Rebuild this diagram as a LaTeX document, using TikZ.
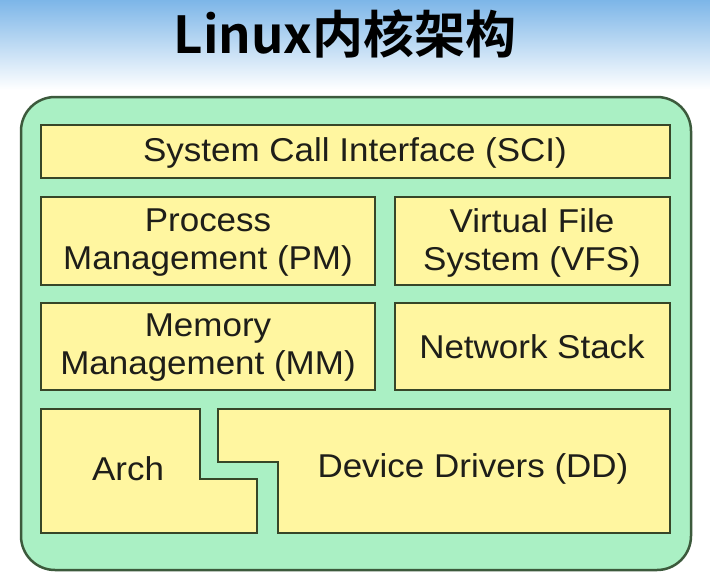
\documentclass[tikz,border=0pt]{standalone}
\usepackage{fontspec}
\setmainfont{Liberation Sans}
\newfontfamily\cjk{Noto Sans CJK SC}[BoldFont={* Bold}]
\definecolor{outerfill}{RGB}{170,240,196}
\definecolor{outerline}{RGB}{60,90,60}
\definecolor{boxfill}{RGB}{255,246,160}
\definecolor{boxline}{RGB}{55,70,40}
\definecolor{skyblue}{RGB}{125,182,232}
\definecolor{txt}{RGB}{30,30,25}
\tikzset{
  kbox/.style={draw=boxline, fill=boxfill, line width=2pt},
  klabel/.style={text=txt, font=\fontsize{33}{38}\selectfont, align=center, inner sep=0pt, xscale=1.06},
}
\begin{document}
\begin{tikzpicture}[x=1pt,y=-1pt]
\useasboundingbox (0,0) rectangle (710,582);
\shade[top color=skyblue, bottom color=white] (0,0) rectangle (710,90);
\fill[white] (0,90) rectangle (710,582);
\node[font=\cjk\bfseries\fontsize{51}{55}\selectfont, text=black, inner sep=0pt] (title) at (345,34) {Linux内核架构};
% outer container
\draw[draw=outerline, fill=outerfill, line width=2.5pt, rounded corners=34pt] (21,97) rectangle (691,570);
% boxes
\draw[kbox] (41,125) rectangle (670,178);
\node[klabel] (sci) at (355,153) {System Call Interface (SCI)};
\draw[kbox] (41,197) rectangle (375,285);
\node[klabel] (pm) at (208,243) {Process\\Management (PM)};
\draw[kbox] (395,197) rectangle (670,285);
\node[klabel] (vfs) at (532,243) {Virtual File\\System (VFS)};
\draw[kbox] (41,303) rectangle (375,390);
\node[klabel] (mm) at (208,348) {Memory\\Management (MM)};
\draw[kbox] (395,303) rectangle (670,390);
\node[klabel] (net) at (532,347) {Network Stack};
% Arch L-shape
\draw[kbox] (41,409) -- (200,409) -- (200,479) -- (257,479) -- (257,533) -- (41,533) -- cycle;
\node[klabel] (arch) at (128,469) {Arch};
% Device drivers shape
\draw[kbox] (218,409) -- (670,409) -- (670,533) -- (278,533) -- (278,462) -- (218,462) -- cycle;
\node[klabel] (dd) at (473,469) {Device Drivers (DD)};
\end{tikzpicture}
\end{document}
